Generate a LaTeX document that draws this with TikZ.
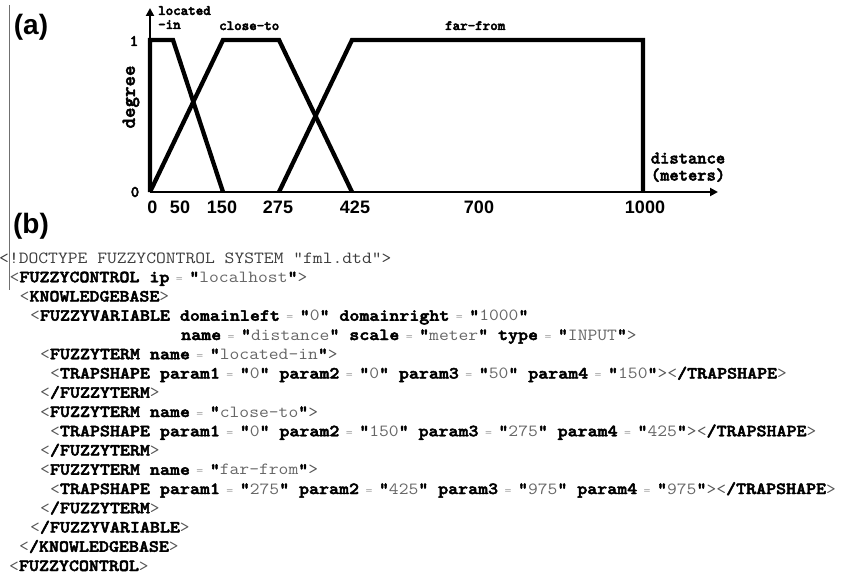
\documentclass[tikz,border=0pt]{standalone}
\usepackage{fontspec}
\setmainfont{Liberation Sans}
\newfontfamily\csans{Liberation Sans}
\usetikzlibrary{arrows.meta}
\definecolor{brk}{HTML}{555555}
\definecolor{strc}{HTML}{666666}
\definecolor{eqc}{HTML}{A0A0A0}
\definecolor{doc}{HTML}{3C3C3C}
\definecolor{rule}{HTML}{707070}
\newcommand\fbon{\special{pdf:literal direct 2 Tr 0.45 w}}
\newcommand\fboff{\special{pdf:literal direct 0 Tr}}
\newcommand\xLT{{\mdseries\color{brk}<}}
\newcommand\xGT{{\mdseries\color{brk}>}}
\newcommand\xKW[1]{{\bfseries\fbon #1\fboff}}
\newcommand\xSV[1]{\xKW{"}{\mdseries\color{strc}#1}\xKW{"}}
\newcommand\xEQ{\hspace{5.8pt}{\fontsize{12}{12}\selectfont\mdseries\color{eqc}=}\hspace{5.8pt}}
\newcommand\XL[1]{\scalebox{1.12}[1]{#1}}
\newcommand\HB[1]{\fbon #1\fboff}
\begin{document}
\begin{tikzpicture}[x=1pt,y=-1pt,
  mf/.style={line width=4.3pt, line join=miter, line cap=butt},
  axisline/.style={line width=2pt, -{Triangle[length=8pt,width=8pt]}},
  chartlbl/.style={font=\ttfamily\bfseries\fontsize{14.3}{14}\selectfont, inner sep=0pt},
  axislbl/.style={font=\ttfamily\bfseries\fontsize{17.7}{17}\selectfont, inner sep=0pt},
  ylbl/.style={font=\ttfamily\bfseries\fontsize{16}{16}\selectfont, inner sep=0pt},
  ticklbl/.style={font=\csans\bfseries\fontsize{18}{18}\selectfont, inner sep=0pt},
  panel/.style={font=\csans\bfseries\fontsize{28}{28}\selectfont, inner sep=0pt},
  xl/.style={font=\ttfamily\fontsize{17}{19}\selectfont, inner sep=0pt, anchor=base west}]
\useasboundingbox (0,0) rectangle (842,575);

% left margin rule
\draw[rule, line width=1pt] (9,5) -- (9,290);

% panel labels
\node[panel] (pa) at (31,27) {(a)};
\node[panel] (pb) at (31,226) {(b)};

% ---- chart (a) ----
\coordinate (O) at (150,192);
\coordinate (Xend) at (718,192);
\coordinate (Yend) at (150,8);
\coordinate (A1) at (150,40);
\coordinate (A2) at (173,40);
\coordinate (A3) at (223,192);
\coordinate (B2) at (223,40);
\coordinate (B3) at (279,40);
\coordinate (B4) at (352,192);
\coordinate (C1) at (279,192);
\coordinate (C2) at (352,40);
\coordinate (C3) at (643,40);
\coordinate (C4) at (643,192);

\draw[mf] (O) -- (A1) -- (A2) -- (A3);
\draw[mf] (O) -- (B2) -- (B3) -- (B4);
\draw[mf] (C1) -- (C2) -- (C3) -- (C4);
\draw[axisline] (O) -- (Xend);
\draw[axisline] (O) -- (Yend);

% term labels
\node[chartlbl, align=left, anchor=north west] (tl1) at (158,6) {\HB{located}\\\HB{-in}};
\node[chartlbl, anchor=base west] (tl2) at (219,30) {\HB{close-to}};
\node[chartlbl, anchor=base west] (tl3) at (445,30) {\HB{far-from}};

% axis labels
\node[axislbl, align=center, anchor=north] (xlab) at (688,152.5) {\HB{distance}\\\HB{(meters)}};
\node[axislbl, font=\ttfamily\bfseries\fontsize{20}{20}\selectfont, rotate=90] (ylab) at (131,97) {\HB{degree}};
\node[ylbl] (y1) at (134,41) {\HB{1}};
\node[ylbl] (y0) at (135,192) {\HB{0}};

% tick labels
\node[ticklbl] (t0) at (152.5,207) {0};
\node[ticklbl] (t50) at (180,207) {50};
\node[ticklbl] (t150) at (222,207) {150};
\node[ticklbl] (t275) at (278,207) {275};
\node[ticklbl] (t425) at (355,207) {425};
\node[ticklbl] (t700) at (479,207) {700};
\node[ticklbl] (t1000) at (645,207) {1000};

% ---- FML listing (b) ----
\node[xl] (l0) at (-1,263) {\XL{\color{doc}<!DOCTYPE FUZZYCONTROL SYSTEM "fml.dtd">}};
\node[xl] (l1) at (9.5,282.25) {\XL{\xLT\xKW{FUZZYCONTROL ip}\xEQ\xSV{localhost}\xGT}};
\node[xl] (l2) at (19.5,301.5) {\XL{\xLT\xKW{KNOWLEDGEBASE}\xGT}};
\node[xl] (l3) at (30,320.75) {\XL{\xLT\xKW{FUZZYVARIABLE domainleft}\xEQ\xSV{0} \xKW{domainright}\xEQ\xSV{1000}}};
\node[xl] (l4) at (181,340) {\XL{\xKW{name}\xEQ\xSV{distance} \xKW{scale}\xEQ\xSV{meter} \xKW{type}\xEQ\xSV{INPUT}\xGT}};
\node[xl] (l5) at (40,359.25) {\XL{\xLT\xKW{FUZZYTERM name}\xEQ\xSV{located-in}\xGT}};
\node[xl] (l6) at (50,378.5) {\XL{\xLT\xKW{TRAPSHAPE param1}\xEQ\xSV{0} \xKW{param2}\xEQ\xSV{0} \xKW{param3}\xEQ\xSV{50} \xKW{param4}\xEQ\xSV{150}\xGT\xLT\xKW{/TRAPSHAPE}\xGT}};
\node[xl] (l7) at (40,397.75) {\XL{\xLT\xKW{/FUZZYTERM}\xGT}};
\node[xl] (l8) at (40,417) {\XL{\xLT\xKW{FUZZYTERM name}\xEQ\xSV{close-to}\xGT}};
\node[xl] (l9) at (50,436.25) {\XL{\xLT\xKW{TRAPSHAPE param1}\xEQ\xSV{0} \xKW{param2}\xEQ\xSV{150} \xKW{param3}\xEQ\xSV{275} \xKW{param4}\xEQ\xSV{425}\xGT\xLT\xKW{/TRAPSHAPE}\xGT}};
\node[xl] (l10) at (40,455.5) {\XL{\xLT\xKW{/FUZZYTERM}\xGT}};
\node[xl] (l11) at (40,474.75) {\XL{\xLT\xKW{FUZZYTERM name}\xEQ\xSV{far-from}\xGT}};
\node[xl] (l12) at (50,494) {\XL{\xLT\xKW{TRAPSHAPE param1}\xEQ\xSV{275} \xKW{param2}\xEQ\xSV{425} \xKW{param3}\xEQ\xSV{975} \xKW{param4}\xEQ\xSV{975}\xGT\xLT\xKW{/TRAPSHAPE}\xGT}};
\node[xl] (l13) at (40,513.25) {\XL{\xLT\xKW{/FUZZYTERM}\xGT}};
\node[xl] (l14) at (30,532.5) {\XL{\xLT\xKW{/FUZZYVARIABLE}\xGT}};
\node[xl] (l15) at (19,551.75) {\XL{\xLT\xKW{/KNOWLEDGEBASE}\xGT}};
\node[xl] (l16) at (9,571) {\XL{\xLT\xKW{FUZZYCONTROL}\xGT}};
\end{tikzpicture}
\end{document}
